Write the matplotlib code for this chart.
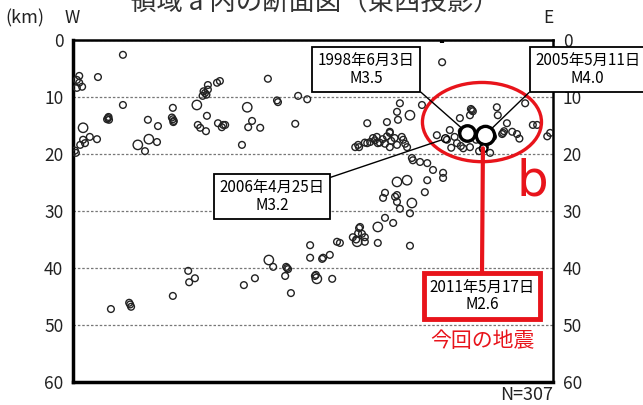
import matplotlib
matplotlib.use('Agg')
import matplotlib.pyplot as plt
from matplotlib.patches import Ellipse
import numpy as np

plt.rcParams['font.family'] = ['Noto Sans CJK JP', 'DejaVu Sans']

# ---- data: hypocenters projected on E-W section ----
dist_km = [1.3, 0.8, 1.3, 1.9, 0.8, 10.4, 5.2, 10.4, 7.3, 7.5, 7.1, 7.4, 2.1, 15.6, 17.7,
           20.8, 20.8, 21.0, 20.6, 20.9, 25.8, 27.9, 27.5, 27.2, 27.8, 27.0, 28.1, 28.1, 30.0, 30.6,
           26.0, 26.5, 27.7, 30.2, 31.0, 31.7, 3.5, 5.0, 2.1, 1.5, 2.5, 0.6, 0.4, 13.5, 15.8,
           17.5, 15.0, 35.2, 40.6, 42.7, 42.5, 46.9, 48.8, 36.3, 37.3, 36.5, 39.0, 31.3, 46.3,
           58.8, 59.6, 61.3, 61.3, 68.1, 72.7, 67.5, 70.2, 65.4, 67.7, 66.0, 68.8, 59.4, 61.9,
           63.5, 66.0, 67.5, 69.6, 62.5, 63.3, 62.9, 63.9, 64.5, 65.0, 66.3, 66.0, 68.5, 69.2,
           60.8, 65.4, 67.0, 75.8, 70.6, 70.8, 72.3, 73.8, 75.0, 77.1, 77.1, 83.1, 82.9, 83.3,
           82.7, 80.6, 88.3, 88.5, 90.4, 89.6, 89.8, 89.4, 91.5, 77.9, 80.0, 81.3, 82.7, 85.8,
           86.9, 96.7, 95.8, 94.2, 98.8, 99.4, 78.5, 79.5, 81.0, 84.0, 86.5, 80.8, 78.8, 84.6,
           87.5, 92.5, 93.0, 69.6, 67.5, 73.8, 73.3, 65.0, 64.6, 67.5, 67.5, 67.1, 70.6, 68.1,
           70.2, 65.0, 66.7, 59.8, 59.4, 58.3, 60.8, 59.2, 60.8, 59.6, 60.2, 59.0, 63.5, 63.5,
           55.6, 70.2, 53.5, 52.1, 49.4, 49.4, 51.9, 55.0, 40.8, 41.7, 44.6, 44.4, 44.8, 44.2,
           45.4, 50.4, 50.6, 50.8, 54.0, 24.0, 25.4, 24.2, 35.6, 37.9, 20.8, 7.9, 11.7, 12.1,
           11.9, 76.9]
depth_km = [6.3, 7.0, 7.5, 8.2, 8.4, 2.6, 6.5, 11.4, 13.7, 14.0, 13.9, 13.5, 15.4, 14.0, 15.1,
            11.9, 13.9, 14.2, 13.6, 14.4, 11.4, 13.3, 9.3, 9.0, 9.6, 9.8, 8.7, 7.9, 7.5, 7.2,
            14.9, 15.4, 16.0, 14.6, 15.3, 14.9, 17.0, 17.4, 17.5, 18.4, 18.1, 19.8, 19.4, 18.4, 17.4,
            17.9, 19.5, 18.4, 6.8, 10.9, 10.6, 9.8, 10.4, 11.8, 14.2, 15.3, 15.4, 14.9, 14.7,
            18.8, 18.8, 18.1, 14.6, 11.1, 11.4, 12.6, 13.2, 14.4, 14.0, 16.1, 17.5, 18.4, 17.9,
            18.1, 16.3, 18.4, 18.8, 17.2, 17.0, 17.6, 18.0, 17.4, 18.2, 17.7, 18.8, 17.0, 18.2,
            18.0, 16.9, 17.2, 16.7, 20.7, 21.1, 21.4, 21.6, 22.8, 23.3, 24.2, 12.3, 12.1, 12.5,
            13.2, 13.7, 11.8, 13.2, 14.6, 16.3, 16.0, 16.5, 16.1, 17.5, 18.1, 19.0, 18.8, 18.8,
            19.8, 14.9, 14.9, 11.1, 16.9, 16.3, 15.8, 17.0, 16.0, 17.5, 17.8, 18.6, 18.9, 19.5,
            17.0, 16.5, 17.3, 24.6, 24.9, 24.6, 26.7, 26.8, 27.7, 27.2, 28.4, 27.5, 28.6, 29.6,
            30.4, 31.2, 32.1, 32.8, 33.9, 34.6, 34.6, 35.4, 35.4, 33.0, 34.0, 35.0, 32.8, 35.6,
            35.6, 36.1, 37.7, 38.2, 36.0, 38.2, 38.4, 35.4, 38.6, 39.8, 40.0, 39.8, 40.2, 41.4,
            44.4, 41.4, 41.2, 41.9, 41.9, 40.5, 41.8, 42.5, 43.0, 41.8, 44.9, 47.2, 46.1, 46.8,
            46.4, 3.9]
magnitude = [1.0, 1.0, 1.0, 1.0, 1.0, 1.0, 1.0, 1.0, 1.0, 1.0, 1.0, 1.0, 2.0, 1.0, 1.0,
             1.0, 1.0, 1.0, 1.0, 1.0, 2.0, 1.0, 1.0, 1.0, 1.0, 1.0, 1.0, 1.0, 1.0, 1.0,
             1.0, 1.0, 1.0, 1.0, 1.0, 1.0, 1.0, 1.0, 1.0, 1.0, 1.0, 1.0, 1.0, 2.0, 2.0,
             1.0, 1.0, 1.0, 1.0, 1.0, 1.0, 1.0, 1.0, 2.0, 1.0, 1.0, 1.0, 1.0, 1.0,
             1.0, 1.0, 1.0, 1.0, 1.0, 1.0, 1.0, 2.0, 1.0, 1.0, 1.0, 1.0, 1.0, 1.0,
             1.0, 1.0, 1.0, 1.0, 1.0, 1.0, 1.0, 1.0, 1.0, 1.0, 1.0, 1.0, 1.0, 1.0,
             1.0, 1.0, 1.0, 1.0, 1.0, 1.0, 1.0, 1.0, 1.0, 1.0, 1.0, 1.0, 1.0, 1.0,
             1.0, 1.0, 1.0, 1.0, 1.0, 1.0, 1.0, 1.0, 1.0, 1.0, 1.0, 1.0, 1.0, 1.0,
             1.0, 1.0, 1.0, 1.0, 1.0, 1.0, 1.0, 1.0, 1.0, 1.0, 1.0, 1.0, 1.0, 1.0,
             1.0, 1.0, 1.0, 2.0, 2.0, 1.0, 1.0, 1.0, 1.0, 1.0, 1.0, 1.0, 2.0, 1.0,
             1.0, 1.0, 1.0, 1.0, 1.0, 1.0, 1.0, 2.0, 1.0, 1.0, 1.0, 1.0, 2.0, 1.0,
             1.0, 1.0, 1.0, 1.0, 1.0, 1.0, 1.0, 1.0, 2.0, 1.0, 1.0, 1.0, 1.0, 1.0,
             1.0, 1.0, 1.0, 2.0, 1.0, 1.0, 1.0, 1.0, 1.0, 1.0, 1.0, 1.0, 1.0, 1.0,
             1.0, 1.0]

# notable events
event_dates = ['1998年6月3日', '2005年5月11日', '2006年4月25日', '2011年5月17日']
event_mag = [3.5, 4.0, 3.2, 2.6]
event_dist = [82.1, 85.8, 77.6, 85.4]
event_depth = [16.3, 16.7, 17.3, 19.0]

depth_ticks = [0, 10, 20, 30, 40, 50, 60]
n_total = 307
title = '領域 a 内の断面図（東西投影）'


def msize(m):
    return 12 * 1.95 ** np.asarray(m)


RED = '#e8141b'
INK = '#222222'

fig = plt.figure(figsize=(6.43, 4.05), dpi=100)
ax = fig.add_axes([73 / 643, 1 - 382 / 405, 480 / 643, 342 / 405])
ax.set_xlim(0, 100)
ax.set_ylim(60, 0)

# grid
ax.set_yticks(depth_ticks)
ax.yaxis.grid(True, ls=(0, (2, 1.5)), color='#777777', lw=0.9)
ax.set_axisbelow(True)

ax.tick_params(axis='y', length=0, left=True, right=True, labelleft=True,
               labelright=True, pad=7, labelsize=12.5, labelcolor=INK)
ax.set_xticks([event_dist[0] - 5.2])
ax.tick_params(axis='x', top=True, bottom=False, labeltop=False, labelbottom=False,
               direction='in', length=2.5, width=3, color='k')

for s, lw in (('left', 2.5), ('bottom', 2.5), ('top', 1.8), ('right', 1.8)):
    ax.spines[s].set_linewidth(lw)
    ax.spines[s].set_color('k')

# hypocenters
ax.scatter(dist_km, depth_km, s=msize(magnitude), facecolors='none',
           edgecolors=INK, linewidths=1.0, zorder=3)

# events
ev_lw = [2.4, 2.4, 1.0, 1.4]
ev_face = ['white', 'white', 'none', 'white']
for i in range(len(event_dates)):
    ax.scatter([event_dist[i]], [event_depth[i]], s=msize(event_mag[i]) if i < 2 else msize(1.4),
               facecolors=ev_face[i], edgecolors='k', linewidths=ev_lw[i], zorder=5)

# red ellipse
ax.add_patch(Ellipse((85.2, 14.4), 24.8, 13.9, fill=False, edgecolor=RED, lw=2.4, zorder=6))

box_kw = dict(boxstyle='square,pad=0.35', fc='white', ec='k', lw=1.3)
txt_kw = dict(fontsize=11, ha='center', va='center', linespacing=1.05,
              textcoords='axes fraction', annotation_clip=False, zorder=7)

ax.annotate(f'{event_dates[0]}\nM{event_mag[0]:.1f}', xy=(event_dist[0], event_depth[0]),
            xytext=(0.611, 0.914), bbox=box_kw,
            arrowprops=dict(arrowstyle='-', color='k', lw=1.0, relpos=(1, 0),
                            shrinkA=0, shrinkB=6), **txt_kw)
ax.annotate(f'{event_dates[1]}\nM{event_mag[1]:.1f}', xy=(event_dist[1], event_depth[1]),
            xytext=(1.072, 0.914), bbox=box_kw,
            arrowprops=dict(arrowstyle='-', color='k', lw=1.0, relpos=(0, 0),
                            shrinkA=0, shrinkB=7), **txt_kw)
ax.annotate(f'{event_dates[2]}\nM{event_mag[2]:.1f}', xy=(event_dist[2], event_depth[2]),
            xytext=(0.415, 0.542), bbox=box_kw,
            arrowprops=dict(arrowstyle='-', color='k', lw=1.0, relpos=(1, 1),
                            shrinkA=0, shrinkB=3), **txt_kw)
red_box = dict(boxstyle='square,pad=0.35', fc='white', ec=RED, lw=3.5)
ax.annotate(f'{event_dates[3]}\nM{event_mag[3]:.1f}', xy=(event_dist[3], event_depth[3]),
            xytext=(0.852, 0.251), bbox=red_box,
            arrowprops=dict(arrowstyle='-', color=RED, lw=3.0, relpos=(0.5, 1),
                            shrinkA=0, shrinkB=0), **txt_kw)

ax.text(0.854, 0.12, '今回の地震', transform=ax.transAxes, ha='center', va='center',
        fontsize=15, color=RED)
ax.text(0.956, 0.585, 'b', transform=ax.transAxes, ha='center', va='center',
        fontsize=36, color=RED, family='DejaVu Sans')

fig.text(5 / 643, 1 - 18 / 405, '(km)', ha='left', va='center', fontsize=13, color=INK)
fig.text(72 / 643, 1 - 18 / 405, 'W', ha='center', va='center', fontsize=12.5, color=INK)
fig.text(548 / 643, 1 - 18 / 405, 'E', ha='center', va='center', fontsize=12.5, color=INK)
fig.text(315 / 643, 1 - 10 / 405, title, ha='center', va='baseline', fontsize=19, color='#333333')
fig.text(553 / 643, 1 - 400 / 405, f'N={n_total}', ha='right', va='baseline',
         fontsize=13, color=INK)

fig.savefig('out.png', dpi=100)
